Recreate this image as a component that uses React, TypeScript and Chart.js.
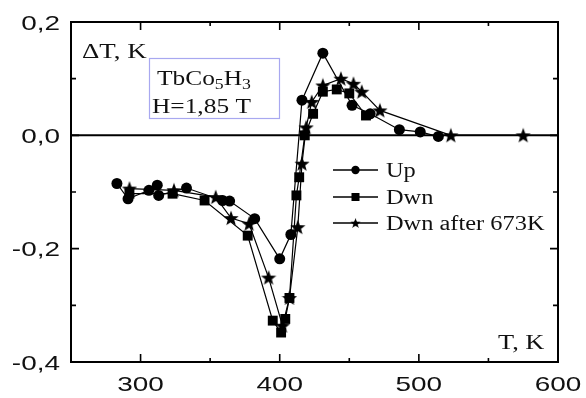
import { useEffect, useRef } from 'react';
import { Chart, registerables } from 'chart.js';

Chart.register(...registerables);

// ---- data ----
const upT = [283, 291, 306, 312, 313, 333, 359, 364, 382, 400, 408, 416, 431, 452, 465, 486, 501, 514];
const upDT = [-0.085, -0.112, -0.097, -0.088, -0.106, -0.093, -0.115, -0.116, -0.147, -0.218, -0.175, 0.062, 0.145, 0.053, 0.038, 0.010, 0.006, -0.002];

const dwnT = [292, 323, 346, 377, 395, 401, 404, 407, 412, 414, 418, 424, 431, 441, 450, 462];
const dwnDT = [-0.103, -0.103, -0.115, -0.177, -0.327, -0.348, -0.324, -0.287, -0.106, -0.074, 0.0, 0.038, 0.077, 0.081, 0.074, 0.035];

const dwn673T = [292, 324, 354, 365, 378, 392, 402, 407, 413, 416, 419, 423, 431, 444, 453, 459, 472, 523, 575];
const dwn673DT = [-0.094, -0.097, -0.109, -0.146, -0.156, -0.251, -0.336, -0.287, -0.162, -0.05, 0.014, 0.059, 0.088, 0.100, 0.091, 0.077, 0.044, 0.0, 0.0];

const seriesNames = ['Up', 'Dwn', 'Dwn after 673K'];

const xTickLabels = [300, 400, 500, 600];
const xMinorTicks = [250, 350, 450, 550];
const yTickLabels = [0.2, 0.0, -0.2, -0.4];
const yMinorTicks = [0.1, -0.1, -0.3];

const SERIF = '"Liberation Serif", "Times New Roman", serif';
const SANS = '"Liberation Sans", Arial, sans-serif';
const SERIF_STRETCH = 1.27;
const SANS_STRETCH = 1.33;

function makeStar(size: number) {
  const c = document.createElement('canvas');
  c.width = size;
  c.height = size;
  const g = c.getContext('2d')!;
  const cx = size / 2, cy = size / 2 + 0.6;
  const R = size / 2, r = R * 0.42;
  g.beginPath();
  for (let i = 0; i < 10; i++) {
    const rad = i % 2 === 0 ? R : r;
    const a = -Math.PI / 2 + (i * Math.PI) / 5;
    const px = cx + rad * Math.cos(a), py = cy + rad * Math.sin(a);
    if (i === 0) g.moveTo(px, py); else g.lineTo(px, py);
  }
  g.closePath();
  g.fillStyle = '#000';
  g.fill();
  return c;
}

function stretchedText(ctx: CanvasRenderingContext2D, text: string, x: number, y: number, align: CanvasTextAlign, font: string, sx: number) {
  ctx.save();
  ctx.translate(x, y);
  ctx.scale(sx, 1);
  ctx.font = font;
  ctx.textAlign = align;
  ctx.textBaseline = 'alphabetic';
  ctx.fillStyle = '#111';
  ctx.fillText(text, 0, 0);
  ctx.restore();
}

function fmt(v: number) {
  if (Math.abs(v) < 1e-9) return '0,0';
  return v.toFixed(1).replace('.', ',');
}

export default function App() {
  const ref = useRef<HTMLCanvasElement>(null);

  useEffect(() => {
    document.body.style.margin = '0';
    const star = makeStar(16);
    const pts = (xs: number[], ys: number[]) => xs.map((x, i) => ({ x, y: ys[i] }));

    const overlay = {
      id: 'overlay',
      beforeDatasetsDraw(chart: any) {
        const { ctx, chartArea: a, scales } = chart;
        const y0 = scales.y.getPixelForValue(0);
        ctx.save();
        ctx.strokeStyle = '#000';
        ctx.lineWidth = 2;
        ctx.beginPath();
        ctx.moveTo(a.left, y0);
        ctx.lineTo(a.right, y0);
        ctx.stroke();
        ctx.restore();
      },
      afterDatasetsDraw(chart: any) {
        const { ctx, chartArea: a, scales } = chart;
        const xs = scales.x, ys = scales.y;
        ctx.save();
        ctx.strokeStyle = '#000';
        ctx.lineWidth = 2;
        ctx.strokeRect(a.left, a.top, a.right - a.left, a.bottom - a.top);

        // ticks (inward)
        ctx.lineWidth = 1.6;
        const hTick = (v: number, len: number) => {
          const px = xs.getPixelForValue(v);
          ctx.beginPath();
          ctx.moveTo(px, a.bottom); ctx.lineTo(px, a.bottom - len);
          ctx.moveTo(px, a.top); ctx.lineTo(px, a.top + len);
          ctx.stroke();
        };
        const vTick = (v: number, len: number) => {
          const py = ys.getPixelForValue(v);
          ctx.beginPath();
          ctx.moveTo(a.left, py); ctx.lineTo(a.left + len, py);
          ctx.moveTo(a.right, py); ctx.lineTo(a.right - len, py);
          ctx.stroke();
        };
        xTickLabels.forEach(v => hTick(v, 8));
        xMinorTicks.forEach(v => hTick(v, 4));
        yTickLabels.forEach(v => vTick(v, 8));
        yMinorTicks.forEach(v => vTick(v, 5));

        // tick labels
        const sansFont = `21px ${SANS}`;
        xTickLabels.forEach(v => {
          stretchedText(ctx, String(v), xs.getPixelForValue(v), 391, 'center', sansFont, SANS_STRETCH);
        });
        yTickLabels.forEach(v => {
          stretchedText(ctx, fmt(v), 60, ys.getPixelForValue(v) + 7.5, 'right', sansFont, SANS_STRETCH);
        });

        // axis titles
        const serifFont = `20px ${SERIF}`;
        stretchedText(ctx, 'ΔT, K', 82, 58, 'left', serifFont, SERIF_STRETCH + 0.08);
        stretchedText(ctx, 'T, K', 498, 349, 'left', serifFont, SERIF_STRETCH + 0.05);

        // annotation box
        ctx.strokeStyle = '#a8a8f0';
        ctx.lineWidth = 1.2;
        ctx.strokeRect(149.5, 58.5, 130, 60);
        // TbCo5H3 with subscripts
        const subFont = `14px ${SERIF}`;
        let x = 157;
        const base = 85;
        const parts: [string, boolean][] = [['TbCo', false], ['5', true], ['H', false], ['3', true]];
        parts.forEach(([t, sub]) => {
          const f = sub ? subFont : serifFont;
          ctx.font = f;
          const w = ctx.measureText(t).width * SERIF_STRETCH;
          stretchedText(ctx, t, x, sub ? base + 4 : base, 'left', f, SERIF_STRETCH);
          x += w;
        });
        stretchedText(ctx, 'H=1,85 T', 152, 113, 'left', serifFont, SERIF_STRETCH);

        // legend
        const legendY = [170, 197, 223];
        const styles = ['circle', 'rect', 'star'];
        ctx.strokeStyle = '#000';
        ctx.fillStyle = '#000';
        ctx.lineWidth = 1.5;
        legendY.forEach((ly, i) => {
          ctx.beginPath();
          ctx.moveTo(333, ly); ctx.lineTo(378, ly);
          ctx.stroke();
          const mx = 355.5;
          ctx.fillStyle = '#000';
          if (styles[i] === 'circle') {
            ctx.beginPath(); ctx.arc(mx, ly, 4.2, 0, Math.PI * 2); ctx.fill();
          } else if (styles[i] === 'rect') {
            ctx.fillRect(mx - 4, ly - 4, 8, 8);
          } else {
            ctx.drawImage(star, mx - 5.5, ly - 5.5, 11, 11);
          }
          stretchedText(ctx, seriesNames[i], 386, ly + 6.5, 'left', serifFont, SERIF_STRETCH - 0.05);
        });
        ctx.restore();
      },
    };

    const common = {
      showLine: true,
      borderColor: '#000',
      backgroundColor: '#000',
      pointBackgroundColor: '#000',
      pointBorderColor: '#000',
      borderWidth: 1.2,
      pointBorderWidth: 0,
      tension: 0,
    };

    const chart = new Chart(ref.current!, {
      type: 'scatter',
      data: {
        datasets: [
          { ...common, label: seriesNames[0], data: pts(upT, upDT), pointStyle: 'circle', pointRadius: 5.5, pointHoverRadius: 5.5 },
          { ...common, label: seriesNames[1], data: pts(dwnT, dwnDT), pointStyle: 'rect', pointRadius: 7, pointHoverRadius: 7 },
          { ...common, label: seriesNames[2], data: pts(dwn673T, dwn673DT), pointStyle: star as any, pointRadius: 8, pointHoverRadius: 8 },
        ],
      },
      options: {
        responsive: false,
        animation: false,
        events: [],
        layout: { padding: { top: 22, right: 28, left: 0, bottom: 0 } },
        plugins: { legend: { display: false }, tooltip: { enabled: false } },
        scales: {
          x: {
            type: 'linear', min: 250, max: 600,
            grid: { display: false, drawTicks: false },
            border: { display: false },
            ticks: { display: false },
            afterFit: (s: any) => { s.height = 36; },
          },
          y: {
            type: 'linear', min: -0.4, max: 0.2,
            grid: { display: false, drawTicks: false },
            border: { display: false },
            ticks: { display: false },
            afterFit: (s: any) => { s.width = 71; },
          },
        },
      },
      plugins: [overlay],
    } as any);

    return () => chart.destroy();
  }, []);

  return (
    <div style={{ position: 'absolute', left: 0, top: 0, width: 586, height: 398, background: '#fff' }}>
      <canvas ref={ref} width={586} height={398} style={{ display: 'block', width: 586, height: 398 }} />
    </div>
  );
}
